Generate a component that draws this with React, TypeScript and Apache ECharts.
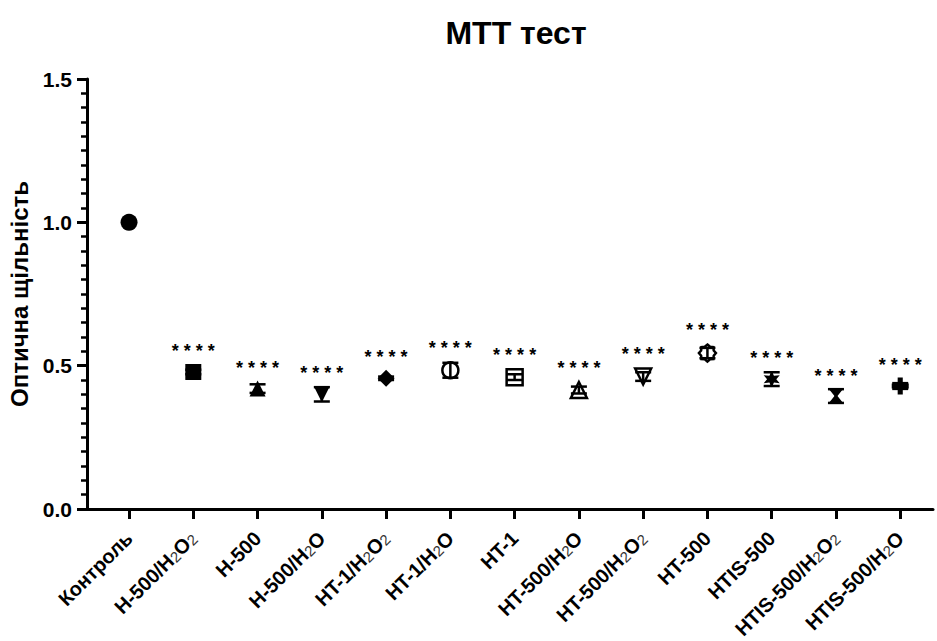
import React, { useEffect, useRef } from "react";
import * as echarts from "echarts";

const categories = [
  "Контроль",
  "H-500/H{s|2}O{s|2}",
  "H-500",
  "H-500/H{s|2}O",
  "HT-1/H{s|2}O{s|2}",
  "HT-1/H{s|2}O",
  "HT-1",
  "HT-500/H{s|2}O",
  "HT-500/H{s|2}O{s|2}",
  "HT-500",
  "HTIS-500",
  "HTIS-500/H{s|2}O{s|2}",
  "HTIS-500/H{s|2}O",
];
const means = [1.0, 0.478, 0.42, 0.4, 0.456, 0.484, 0.46, 0.415, 0.462, 0.544, 0.453, 0.394, 0.429];
const errors = [0.0, 0.008, 0.015, 0.025, 0.006, 0.026, 0.01, 0.012, 0.015, 0.018, 0.024, 0.024, 0.01];
const significance = ["", "****", "****", "****", "****", "****", "****", "****", "****", "****", "****", "****", "****"];
const yTicks = [0, 0.5, 1.0, 1.5];

const FONT = "Liberation Sans, Arial, Helvetica, sans-serif";

// symbol shapes
const INV_TRI = "path://M0,0 L10,0 L5,10 Z";
const TRI = "path://M5,0 L10,10 L0,10 Z";
const GEAR = (() => {
  const pts: string[] = [];
  for (let i = 0; i < 16; i++) {
    const r = i % 2 === 0 ? 10 : 8;
    const a = (Math.PI * 2 * i) / 16 - Math.PI / 2;
    pts.push(`${(10 + r * Math.cos(a)).toFixed(2)},${(10 + r * Math.sin(a)).toFixed(2)}`);
  }
  return "path://M" + pts.join(" L") + " Z";
})();
const STAR6 = (() => {
  const pts: string[] = [];
  for (let i = 0; i < 12; i++) {
    const r = i % 2 === 0 ? 10 : 5;
    const a = (Math.PI * 2 * i) / 12 - Math.PI / 2;
    pts.push(`${(10 + r * Math.cos(a)).toFixed(2)},${(10 + r * Math.sin(a)).toFixed(2)}`);
  }
  return "path://M" + pts.join(" L") + " Z";
})();
const HOURGLASS = "path://M0,0 L10,0 L6,5 L10,10 L0,10 L4,5 Z";
const PLUS = "path://M3.5,0 L6.5,0 L6.5,3.5 L10,3.5 L10,6.5 L6.5,6.5 L6.5,10 L3.5,10 L3.5,6.5 L0,6.5 L0,3.5 L3.5,3.5 Z";

const symbols = [
  { symbol: "circle", size: 17, open: false },
  { symbol: "rect", size: 16, open: false },
  { symbol: TRI, size: 16, open: false },
  { symbol: INV_TRI, size: 16, open: false },
  { symbol: "diamond", size: 17, open: false },
  { symbol: "circle", size: 16, open: true },
  { symbol: "rect", size: 16, open: true },
  { symbol: TRI, size: 16, open: true },
  { symbol: INV_TRI, size: 16, open: true },
  { symbol: GEAR, size: 17, open: true },
  { symbol: STAR6, size: 16, open: false },
  { symbol: HOURGLASS, size: 15, open: false },
  { symbol: PLUS, size: 17, open: false },
];

export default function App() {
  const ref = useRef<HTMLDivElement>(null);
  useEffect(() => {
    if (!ref.current) return;
    const chart = echarts.init(ref.current, undefined, { renderer: "svg" });
    const idx = categories.map((_, i) => i);
    chart.setOption({
      animation: false,
      backgroundColor: "#ffffff",
      title: {
        text: "MTT тест",
        left: 511,
        top: 12,
        textAlign: "center",
        textStyle: { fontFamily: FONT, fontWeight: "bold", fontSize: 32, color: "#000" },
      },
      grid: { left: 87, right: 4, top: 79, bottom: 132, containLabel: false, outerBoundsMode: "none" },
      xAxis: {
        type: "value",
        min: -0.654,
        max: 12.51,
        splitLine: { show: false },
        axisLine: { onZero: false, lineStyle: { color: "#000", width: 3 } },
        axisTick: { show: true, customValues: idx, length: 10, lineStyle: { color: "#000", width: 3 } },
        axisLabel: {
          customValues: idx,
          rotate: 45,
          margin: 26,
          fontFamily: FONT,
          fontWeight: "bold",
          fontSize: 20,
          color: "#000",
          formatter: (v: number) => categories[Math.round(v)] ?? "",
          rich: {
            s: { fontFamily: FONT, fontSize: 15, fontWeight: "normal", color: "#333", verticalAlign: "bottom", lineHeight: 14 },
          },
        },
      },
      yAxis: {
        type: "value",
        min: yTicks[0],
        max: yTicks[yTicks.length - 1],
        interval: 0.5,
        name: "Оптична щільність",
        nameLocation: "middle",
        nameGap: 54,
        nameTextStyle: { fontFamily: FONT, fontWeight: "bold", fontSize: 24, color: "#000" },
        splitLine: { show: false },
        axisLine: { show: true, onZero: false, lineStyle: { color: "#000", width: 3 } },
        axisTick: { show: true, length: 10, lineStyle: { color: "#000", width: 3 } },
        minorTick: { show: true, splitNumber: 10, length: 6, lineStyle: { color: "#000", width: 2.5 } },
        axisLabel: {
          margin: 15,
          fontFamily: FONT,
          fontWeight: "bold",
          fontSize: 21,
          color: "#000",
          formatter: (v: number) => v.toFixed(1),
        },
      },
      series: [
        {
          type: "scatter",
          z: 2,
          data: means.map((m, i) => ({
            value: [i, m],
            symbol: symbols[i].symbol,
            symbolSize: symbols[i].size,
            itemStyle: symbols[i].open
              ? { color: "#fff", borderColor: "#000", borderWidth: 2.5, opacity: 1 }
              : { color: "#000", borderColor: "#000", borderWidth: 0, opacity: 1 },
            label: {
              show: significance[i] !== "",
              position: "top",
              distance: 4,
              formatter: significance[i].split("").join(" "),
              fontFamily: FONT,
              fontWeight: "bold",
              fontSize: 18,
              color: "#000",
            },
          })),
        },
        {
          type: "custom",
          z: 3,
          data: means.map((m, i) => [i, m, errors[i]]),
          renderItem: (params: any, api: any) => {
            const x = api.value(0);
            const y = api.value(1);
            const e = api.value(2);
            if (!e) return null;
            const top = api.coord([x, y + e]);
            const bot = api.coord([x, y - e]);
            const w = 8;
            const style = { stroke: "#000", lineWidth: 2.5 };
            return {
              type: "group",
              children: [
                { type: "line", shape: { x1: top[0], y1: top[1], x2: bot[0], y2: bot[1] }, style },
                { type: "line", shape: { x1: top[0] - w, y1: top[1], x2: top[0] + w, y2: top[1] }, style },
                { type: "line", shape: { x1: bot[0] - w, y1: bot[1], x2: bot[0] + w, y2: bot[1] }, style },
              ],
            };
          },
        },
      ],
    });
    return () => chart.dispose();
  }, []);
  return (
    <div
      ref={ref}
      style={{ position: "fixed", left: 0, top: 0, width: 937, height: 641, background: "#fff" }}
    />
  );
}
